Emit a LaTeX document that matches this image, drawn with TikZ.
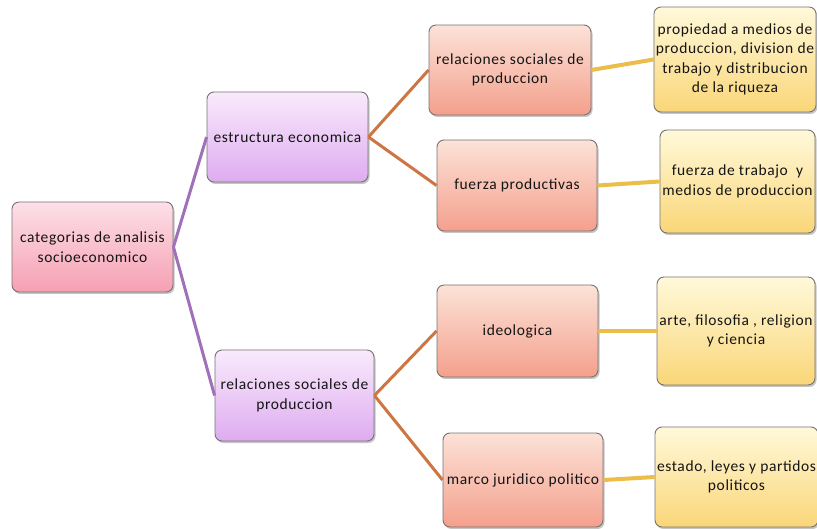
\documentclass[tikz,border=0pt]{standalone}
\usepackage{fontspec}
\setmainfont{Carlito}[LetterSpace=4]
\usetikzlibrary{shadows}
\definecolor{rootTop}{RGB}{252,224,232}
\definecolor{rootBot}{RGB}{246,160,178}
\definecolor{purTop}{RGB}{249,234,252}
\definecolor{purBot}{RGB}{222,172,240}
\definecolor{salTop}{RGB}{252,226,216}
\definecolor{salBot}{RGB}{244,160,140}
\definecolor{yelTop}{RGB}{255,249,218}
\definecolor{yelBot}{RGB}{250,214,120}
\definecolor{bord}{RGB}{120,115,115}
\definecolor{lnPur}{RGB}{160,112,185}
\definecolor{lnOra}{RGB}{205,118,68}
\definecolor{lnYel}{RGB}{234,190,72}
\definecolor{txt}{RGB}{20,20,20}
\begin{document}
\begin{tikzpicture}[x=1pt,y=-1pt,
  boxbase/.style={draw=bord, line width=0.9pt, rounded corners=7pt, align=center,
    text=txt, font=\fontsize{15.5}{19.5}\selectfont, inner sep=2pt,
    drop shadow={opacity=0.45, shadow xshift=1.5pt, shadow yshift=-2pt}},
  rootbox/.style={boxbase, top color=rootTop, bottom color=rootBot},
  purbox/.style={boxbase, top color=purTop, bottom color=purBot},
  salbox/.style={boxbase, top color=salTop, bottom color=salBot},
  yelbox/.style={boxbase, top color=yelTop, bottom color=yelBot},
  lpur/.style={draw=lnPur, line width=3pt},
  lora/.style={draw=lnOra, line width=3pt},
  lyel/.style={draw=lnYel, line width=4pt}]
\useasboundingbox (0,0) rectangle (817,529);
\fill[white] (0,0) rectangle (817,529);

\node[rootbox, minimum width=161pt, minimum height=90pt] (root) at (92.5,247) {categorias de analisis\\socioeconomico};
\node[purbox, minimum width=161pt, minimum height=90pt] (ea) at (287.5,137) {estructura economica};
\node[purbox, minimum width=159pt, minimum height=91pt] (eb) at (294.5,395.5) {relaciones sociales de\\produccion};

\node[salbox, minimum width=162pt, minimum height=90pt] (ra) at (510,70) {relaciones sociales de\\produccion};
\node[salbox, minimum width=160pt, minimum height=91pt] (rb) at (517,185.5) {fuerza productivas};
\node[salbox, minimum width=161pt, minimum height=92pt] (rc) at (517.5,331) {ideologica};
\node[salbox, minimum width=160pt, minimum height=94pt] (rd) at (523,480) {marco juridico politico};

\node[yelbox, minimum width=160pt, minimum height=105pt] (ya) at (735,59.5) {propiedad a medios de\\produccion, division de\\trabajo y distribucion\\de la riqueza};
\node[yelbox, minimum width=155pt, minimum height=103pt] (yb) at (737.5,181.5) {fuerza de trabajo~ y\\medios de produccion};
\node[yelbox, minimum width=158pt, minimum height=108pt] (yc) at (736,331) {arte, filosofia , religion\\y ciencia};
\node[yelbox, minimum width=157pt, minimum height=100pt] (yd) at (736.5,477) {estado, leyes y partidos\\politicos};

\draw[lpur] (root.east) -- (ea.west);
\draw[lpur] (root.east) -- (eb.west);
\draw[lora] (ea.east) -- (ra.west);
\draw[lora] (ea.east) -- (rb.west);
\draw[lora] (eb.east) -- (rc.west);
\draw[lora] (eb.east) -- (rd.west);
\draw[lyel] (ra.east) -- (ya.west);
\draw[lyel] (rb.east) -- (yb.west);
\draw[lyel] (rc.east) -- (yc.west);
\draw[lyel] (rd.east) -- (yd.west);
\end{tikzpicture}
\end{document}
